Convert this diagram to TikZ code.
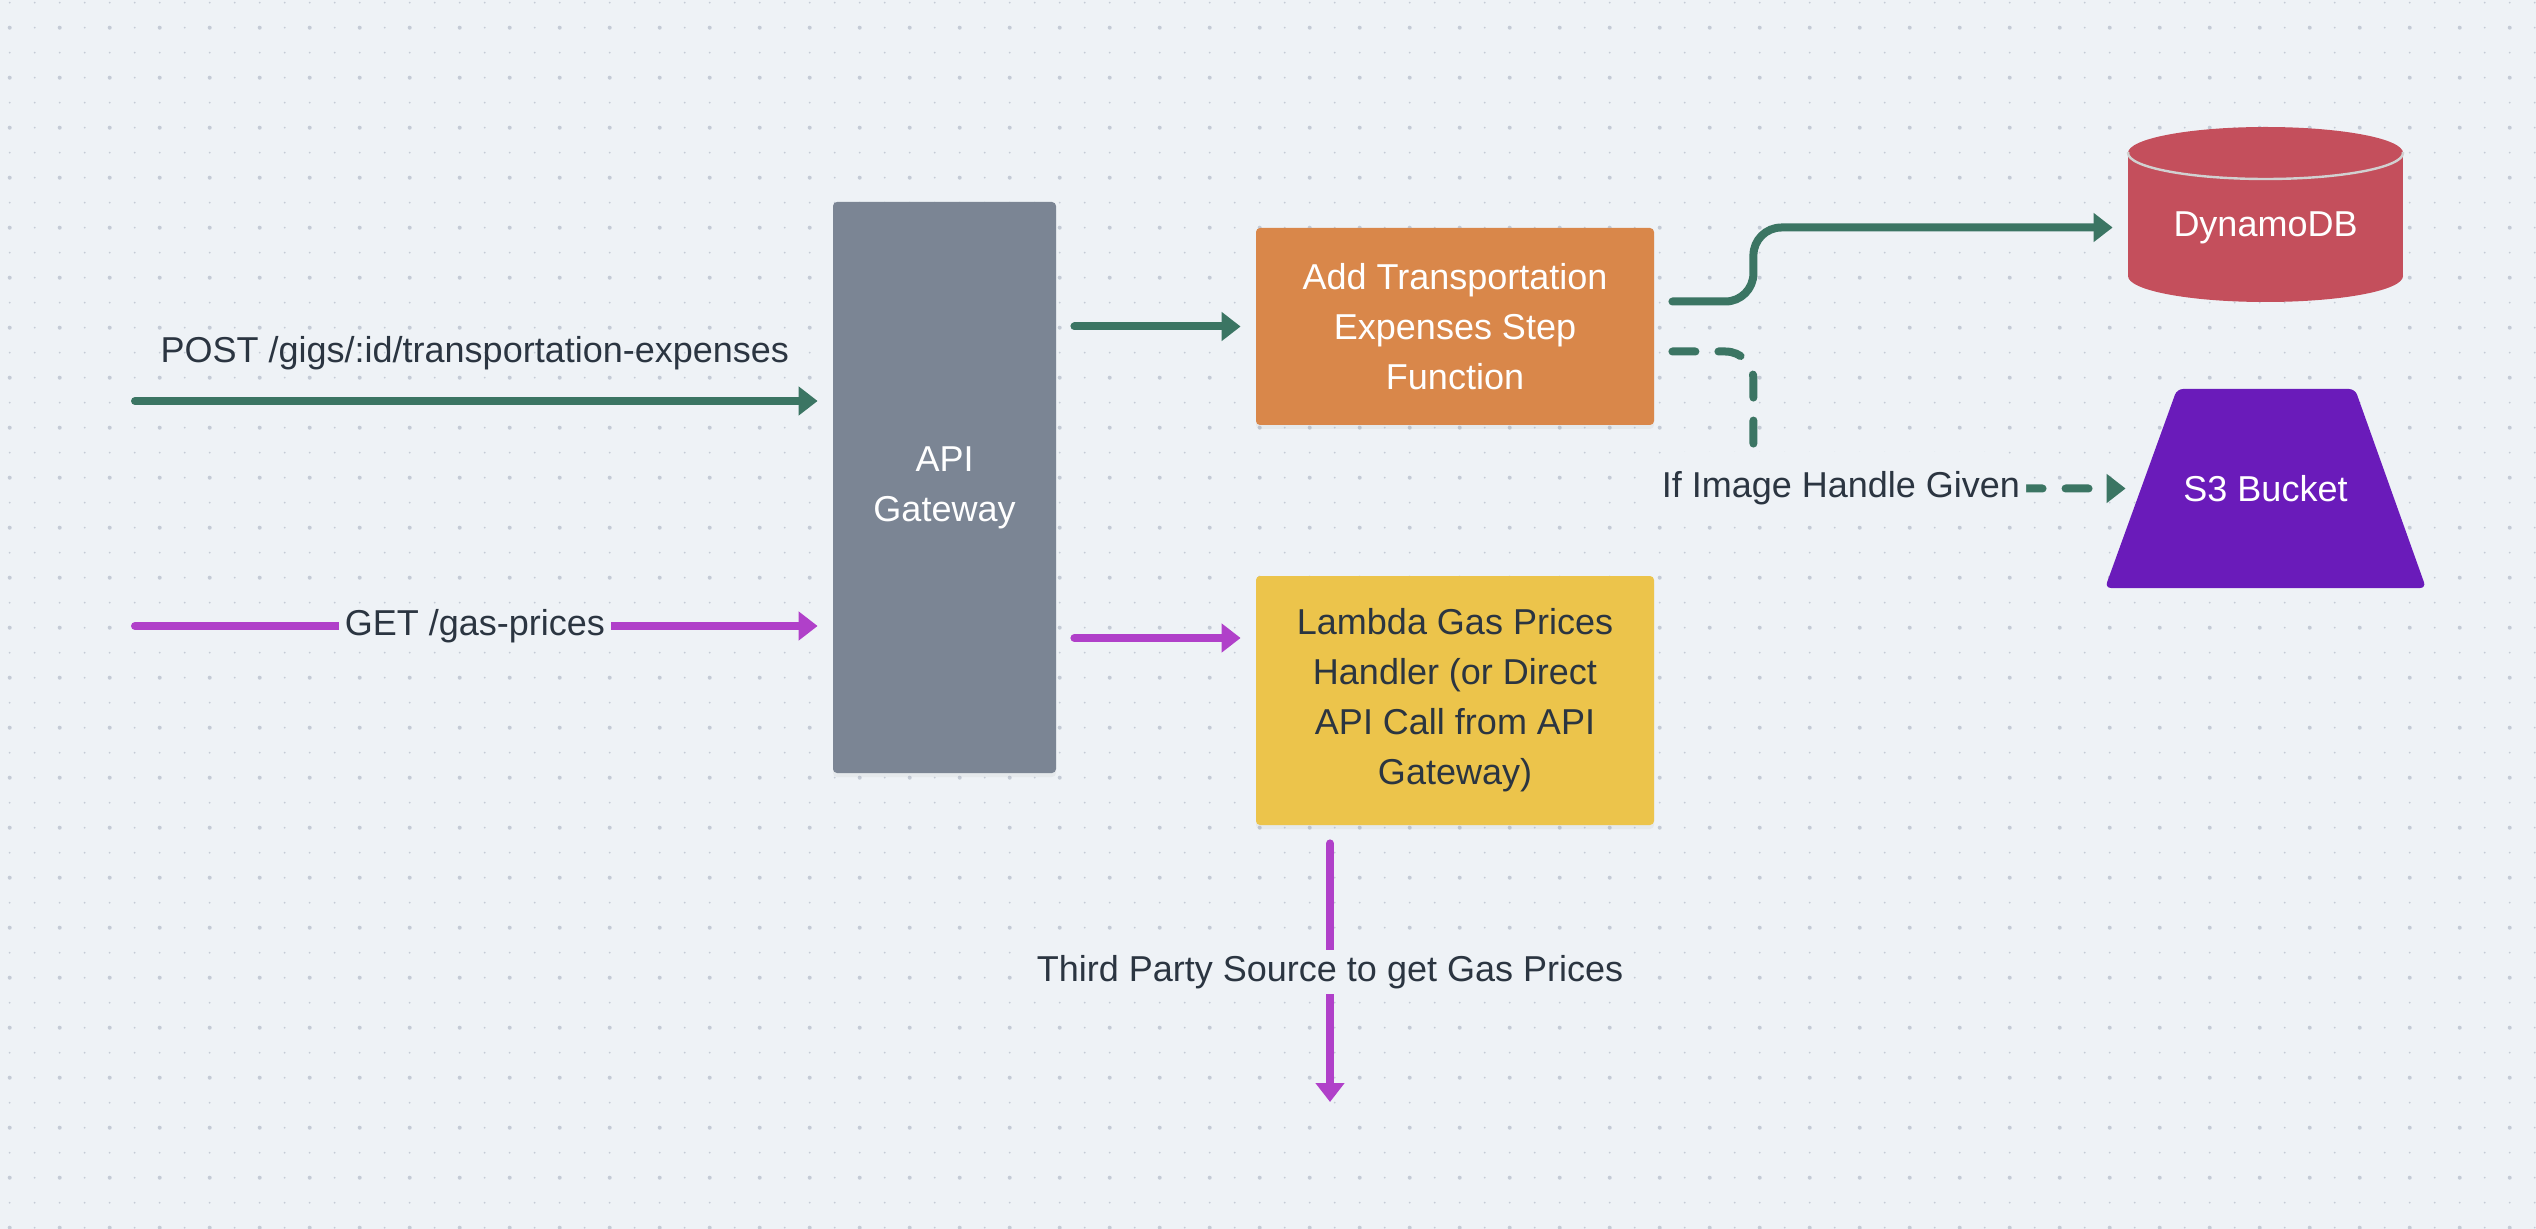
\documentclass[tikz,border=0pt]{standalone}
\usepackage{fontspec}
\setmainfont{Liberation Sans}
\usetikzlibrary{arrows.meta,calc,shadows}
\definecolor{bg}{HTML}{EEF2F6}
\definecolor{d1}{HTML}{C4CBD6}
\definecolor{g1}{HTML}{3B7563}
\definecolor{m1}{HTML}{B040C9}
\definecolor{s1}{HTML}{7B8594}
\definecolor{o1}{HTML}{D9874A}
\definecolor{y1}{HTML}{ECC44B}
\definecolor{r1}{HTML}{C44F5C}
\definecolor{p1}{HTML}{6A1BBA}
\definecolor{t1}{HTML}{2B3541}
\tikzset{>={Triangle[length=9.5pt,width=14pt]}}
\tikzstyle{box}=[rectangle,rounded corners=2pt,align=center,inner sep=0pt,font=\fontsize{18}{25}\selectfont,drop shadow={shadow xshift=0pt,shadow yshift=-2pt,opacity=.08}]
\tikzstyle{shapetext}=[inner sep=0pt,text=white,font=\fontsize{18}{25}\selectfont]
\tikzstyle{wire}=[line width=4pt,line cap=round,->,shorten <=9pt,shorten >=7.5pt]
\tikzstyle{dashwire}=[wire,dash pattern=on 11.5pt off 11.5pt]
\tikzstyle{lbl}=[fill=bg,text=t1,inner xsep=3pt,inner ysep=2.5pt,font=\fontsize{18}{22}\selectfont]

\begin{document}
\begin{tikzpicture}[x=0.5pt,y=-0.5pt]
  \useasboundingbox (0,0) rectangle (2536,1229);
  \fill[bg] (0,0) rectangle (2536,1229);
  % dot grid
  \foreach \i in {0,...,101}
    \foreach \j in {0,...,49}
      \fill[d1] (9.7+25*\i,2.7+25*\j) circle[radius=1];
  \foreach \i in {0,2,...,100}
    \foreach \j in {1,3,...,49}
      \fill[d1] (9.7+25*\i,2.7+25*\j) circle[radius=2];

  \node[box,fill=s1,text=white,minimum width=111.5pt,minimum height=285.5pt] (gw) at (944.5,487.5) {API\\Gateway};
  \node[box,fill=o1,text=white,minimum width=199pt,minimum height=98.5pt] (sfn) at (1455,326.5) {Add Transportation\\Expenses Step\\Function};
  \node[box,fill=y1,text=t1,minimum width=199pt,minimum height=124.5pt] (lgp) at (1455,700.5) {Lambda Gas Prices\\Handler (or Direct\\API Call from API\\Gateway)};

  % DynamoDB cylinder
  \fill[r1] (2128,153) rectangle (2403,276);
  \fill[r1] (2265.5,276) ellipse[x radius=137.5,y radius=26];
  \fill[r1] (2265.5,153) ellipse[x radius=137.5,y radius=26];
  \begin{scope}
    \clip (2120,153) rectangle (2410,190);
    \draw[line width=1.2pt,black!18] (2265.5,153) ellipse[x radius=137.5,y radius=26];
  \end{scope}
  \node[shapetext,minimum width=137.5pt,minimum height=75pt] (db) at (2265.5,227.5) {DynamoDB};

  % S3 bucket
  \fill[p1,rounded corners=3pt] (2177,389) -- (2355,389) -- (2426,588) -- (2105,588) -- cycle;
  \node[shapetext,minimum width=124.5pt,minimum height=99.5pt] (s3) at (2265.5,488.5) {S3 Bucket};

  \coordinate (postin) at (117,401);
  \coordinate (getin) at (117,626);
  \coordinate (lgpin) at ($(lgp.west)+(0,-62.5)$);
  \coordinate (gasapi) at (1330,1102);

  \draw[wire,g1] (postin) -- (postin -| gw.west)
    node[midway,above=10pt,text=t1,font=\fontsize{18}{22}\selectfont] {POST /gigs/:id/transportation-expenses};
  \draw[wire,m1] (getin) -- (getin -| gw.west) node[lbl,midway] {GET /gas-prices};
  \draw[wire,g1] (gw.east |- sfn.west) -- (sfn.west);
  \draw[wire,m1] (gw.east |- lgpin) -- (lgpin);
  \draw[wire,g1,rounded corners=14pt] ([yshift=12.5pt]sfn.east) -- ++(99,0) |- (db.west);
  \draw[dashwire,g1,rounded corners=14pt] ([yshift=-12.5pt]sfn.east) -- ++(99,0) |- (s3.west)
    node[lbl,pos=0.613,inner ysep=10pt] {If Image Handle Given};
  \draw[wire,m1,shorten >=0pt] (lgp.south -| gasapi) -- (gasapi)
    node[lbl,pos=0.53] {Third Party Source to get Gas Prices};
\end{tikzpicture}
\end{document}
